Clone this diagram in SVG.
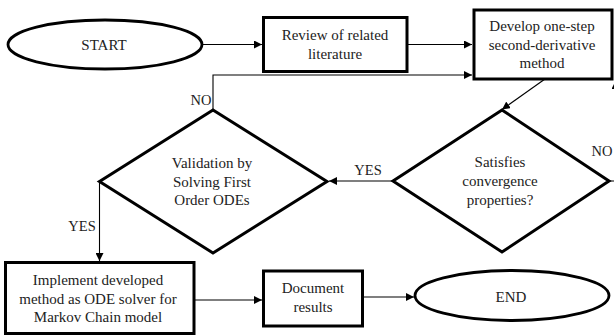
<svg xmlns="http://www.w3.org/2000/svg" width="614" height="336" viewBox="0 0 614 336">
<style>
.box{fill:#fff;stroke:#000;stroke-width:3}
.term{fill:#fff;stroke:#000;stroke-width:2.8}
.dia{fill:#fff;stroke:#000;stroke-width:3;stroke-linejoin:miter}
.t{font-family:'Liberation Serif','Times New Roman',serif;font-size:15px;fill:#222;text-anchor:middle}
.lbl{font-family:'Liberation Serif','Times New Roman',serif;font-size:14.5px;fill:#222;text-anchor:middle}
.c{fill:none;stroke:#000;stroke-width:1.1}
</style>
<defs>
<marker id="ah" viewBox="0 0 10 10" refX="10" refY="5" markerWidth="8" markerHeight="8" markerUnits="userSpaceOnUse" orient="auto">
<path d="M0,0 L10,5 L0,10 z" fill="#000"/>
</marker>
</defs>
<rect width="614" height="336" fill="#fff"/>
<g id="connectors">
<line class="c" x1="202" y1="44.5" x2="262" y2="44.5" marker-end="url(#ah)"/>
<line class="c" x1="407" y1="44.5" x2="472" y2="44.5" marker-end="url(#ah)"/>
<polyline class="c" points="213,110 213,75 472,75" marker-end="url(#ah)"/>
<line class="c" x1="545" y1="79" x2="502" y2="109.5" stroke="#444" marker-end="url(#ah)"/>
<line class="c" x1="393" y1="181" x2="329" y2="181" marker-end="url(#ah)"/>
<polyline class="c" points="609,181 615.5,181 615.5,81" marker-end="url(#ah)"/>
<polyline class="c" points="99.5,181.5 99.5,261" marker-end="url(#ah)"/>
<line class="c" x1="194" y1="300" x2="262" y2="300" marker-end="url(#ah)"/>
<line class="c" x1="363" y1="297" x2="414" y2="297" marker-end="url(#ah)"/>
<text class="lbl" x="201" y="105">NO</text>
<text class="lbl" x="368" y="175">YES</text>
<text class="lbl" x="602" y="156">NO</text>
<text class="lbl" x="82" y="231">YES</text>
</g>
<g id="start">
<ellipse class="term" cx="105" cy="44.5" rx="97" ry="24.5"/>
<text class="t" x="104" y="49.5">START</text>
</g>
<g id="review">
<rect class="box" x="263.5" y="17.5" width="143.5" height="54"/>
<text class="t" x="335" y="40">Review of related</text>
<text class="t" x="335" y="58.5">literature</text>
</g>
<g id="develop">
<rect class="box" x="474" y="10" width="138" height="69"/>
<text class="t" x="542" y="31">Develop one-step</text>
<text class="t" x="542" y="49.5">second-derivative</text>
<text class="t" x="542" y="68">method</text>
</g>
<g id="satisfies">
<polygon class="dia" points="502,110 609,181 502,252 393,181"/>
<text class="t" x="500" y="166.5">Satisfies</text>
<text class="t" x="500" y="186">convergence</text>
<text class="t" x="500" y="205">properties?</text>
</g>
<g id="validation">
<polygon class="dia" points="213,110 327,181.5 213,253 99.5,181.5"/>
<text class="t" x="212" y="168">Validation by</text>
<text class="t" x="212" y="186.5">Solving First</text>
<text class="t" x="212" y="205">Order ODEs</text>
</g>
<g id="implement">
<rect class="box" x="5.5" y="262.5" width="188.5" height="71"/>
<text class="t" x="98" y="285">Implement developed</text>
<text class="t" x="98" y="303.5">method as ODE  solver for</text>
<text class="t" x="98" y="322">Markov Chain model</text>
</g>
<g id="document">
<rect class="box" x="263.5" y="271" width="99" height="55"/>
<text class="t" x="313" y="293">Document</text>
<text class="t" x="313" y="312">results</text>
</g>
<g id="end">
<ellipse class="term" cx="512" cy="295.5" rx="97" ry="25"/>
<text class="t" x="511" y="302">END</text>
</g>
</svg>
